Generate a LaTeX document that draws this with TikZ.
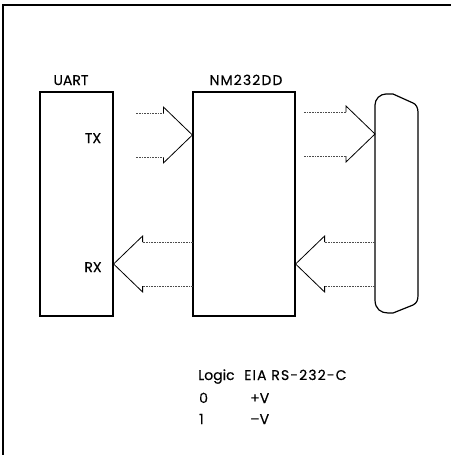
\documentclass[tikz,border=0pt]{standalone}
\usepackage{fontspec}
\setmainfont{Poppins}[FakeBold=0.35]
\usetikzlibrary{calc}
\tikzset{
  chip/.style={draw,line width=1.2pt,minimum height=224pt,inner sep=0pt},
  shaft/.style={densely dotted,line width=0.6pt,black!70},
  head/.style={line width=0.8pt},
  lbl/.style={inner sep=0pt,font=\fontsize{14pt}{16pt}\selectfont},
  wide/.style={lbl,font=\fontsize{14pt}{16pt}\addfontfeatures{LetterSpace=8}}
}
% open arrow: tip, tail, direction (1 = right, -1 = left)
\newcommand{\sigarrow}[3]{%
  \draw[head] ($(#1)+(-29*#3,-22)$) -- ($(#1)+(-29*#3,-28)$) -- (#1)
    -- ($(#1)+(-29*#3,28)$) -- ($(#1)+(-29*#3,22)$);
  \draw[shaft] ($(#1)+(-29*#3,-22)$) -- ($(#2)+(0,-22)$);
  \draw[shaft] ($(#1)+(-29*#3,22)$) -- ($(#2)+(0,22)$);
}
\begin{document}
\begin{tikzpicture}[x=1pt,y=-1pt]
  \useasboundingbox (0,0) rectangle (451,455);
  % frame
  \draw[line width=1.3pt] (3,455) -- (3,5) -- (451,5);
  % UART and driver
  \node[chip,minimum width=73pt] (uart) at (76.5,204) {};
  \node[chip,minimum width=102pt] (nm) at (244,204) {};
  \node[lbl,anchor=base] at (71,85) {UART};
  \node[wide,anchor=base] at (246,85) {NM232DD};
  \node[lbl,anchor=base] (tx) at (93,143) {TX};
  \node[lbl,anchor=base] (rx) at (93,272) {RX};
  % connector
  \draw[line width=1.2pt] (375,105) -- (375,300)
    .. controls (375,309) and (381,313) .. (388,313) -- (393,313) -- (413,305)
    .. controls (417,303) and (418,300) .. (418,295) -- (418,112)
    .. controls (418,108) and (416,104) .. (413,103) -- (393,94) -- (386,94)
    .. controls (380,94) and (375,99) .. (375,105) -- cycle;
  \coordinate (plug) at (375,264);
  % signals
  \coordinate (txtip) at (nm.west |- 0,135);
  \coordinate (txtail) at (135,135);
  \coordinate (txout) at (375,134);
  \coordinate (txouttail) at (303,134);
  \coordinate (rxtip) at (uart.east |- 0,264);
  \coordinate (rxtail) at (nm.west |- 0,264);
  \coordinate (rxin) at (nm.east |- 0,264);
  \sigarrow{txtip}{txtail}{1}
  \sigarrow{txout}{txouttail}{1}
  \sigarrow{rxtip}{rxtail}{-1}
  \sigarrow{rxin}{plug}{-1}
  % legend
  \node[lbl,anchor=base west] (logic) at (198,380) {Logic};
  \node[wide,anchor=base west] (eia) at (244,380) {EIA RS-232-C};
  \node[lbl,anchor=base west] at (199,403) {0};
  \node[lbl,anchor=base west] at (250,403) {+V};
  \node[lbl,anchor=base west] at (199,424) {1};
  \node[lbl,anchor=base west] at (250,424) {–V};
\end{tikzpicture}
\end{document}
